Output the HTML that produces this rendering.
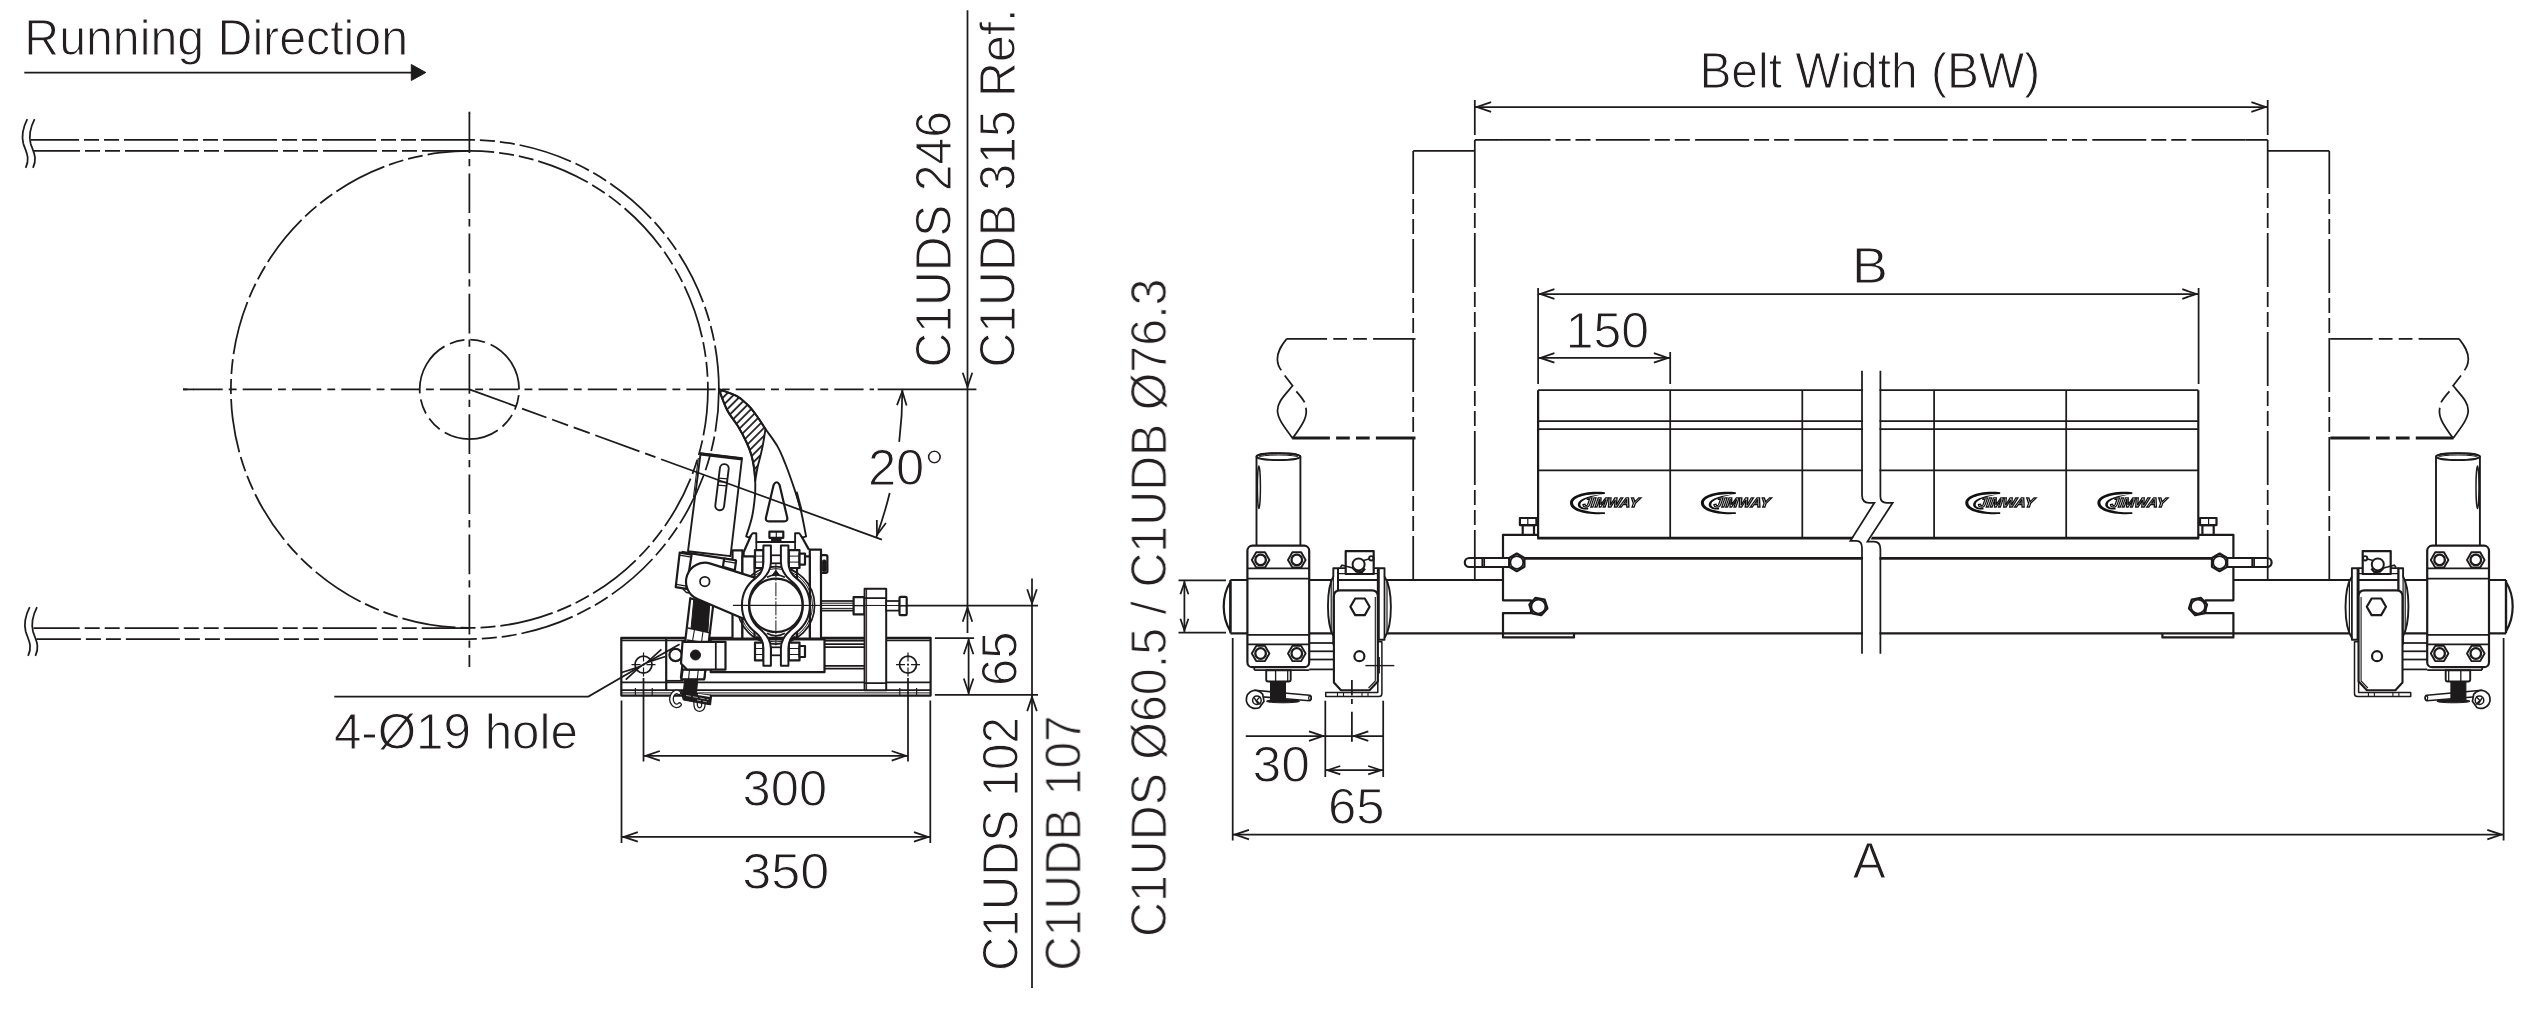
<!DOCTYPE html>
<html><head><meta charset="utf-8"><title>Belt cleaner drawing</title>
<style>
html,body{margin:0;padding:0;background:#fff;}
svg{display:block;font-family:"Liberation Sans",sans-serif;}
.l{fill:none;stroke:#1c1a1a;stroke-width:1.75;stroke-linecap:butt;stroke-linejoin:miter;stroke-miterlimit:10;}
.lw{fill:#fff;stroke:#1c1a1a;stroke-width:1.75;stroke-linejoin:miter;}
.m{fill:none;stroke:#1c1a1a;stroke-width:2.2;stroke-linejoin:round;}
.mw{fill:#fff;stroke:#1c1a1a;stroke-width:2.2;stroke-linejoin:round;}
.k{fill:#1c1a1a;stroke:#1c1a1a;stroke-width:1;}
.th{fill:none;stroke:#1c1a1a;stroke-width:2.6;}
.ph{fill:none;stroke:#1c1a1a;stroke-width:1.75;stroke-dasharray:54 5 15 5 15 5;}
.cl{fill:none;stroke:#1c1a1a;stroke-width:1.75;stroke-dasharray:29 6 8 6;}
.tx{fill:#231f20;stroke:#fff;stroke-width:1.0;paint-order:fill stroke;}
</style></head><body>
<svg width="2542" height="1021" viewBox="0 0 2542 1021">
<defs>
<pattern id="hat" width="5.6" height="5.6" patternUnits="userSpaceOnUse" patternTransform="rotate(-45)">
<line x1="-1" y1="2.8" x2="7" y2="2.8" stroke="#1c1a1a" stroke-width="1.75"/>
</pattern>
</defs>
<rect x="0" y="0" width="2542" height="1021" fill="#fff"/>

<g id="side">
<rect class="mw" x="621.3" y="637.8" width="309.3" height="57.8" rx="0" />
<line class="l" x1="621.3" y1="640.3" x2="930.6" y2="640.3" />
<line class="l" x1="621.3" y1="690.2" x2="930.6" y2="690.2" />
<line class="l" x1="621.3" y1="692.9" x2="930.6" y2="692.9" style="stroke-width:1"/>
<line class="l" x1="621.3" y1="682.4" x2="930.6" y2="682.4" />
<line class="l" x1="666.2" y1="680.8" x2="683.4" y2="680.8" />
<line class="m" x1="666.2" y1="637.8" x2="666.2" y2="690.2" />
<line class="l" x1="635.4" y1="688" x2="635.4" y2="695.6" style="stroke-width:1.2"/>
<line class="l" x1="652.2" y1="688" x2="652.2" y2="695.6" style="stroke-width:1.2"/>
<line class="l" x1="899.8" y1="688" x2="899.8" y2="695.6" style="stroke-width:1.2"/>
<line class="l" x1="916.6" y1="688" x2="916.6" y2="695.6" style="stroke-width:1.2"/>
<circle class="l" cx="643.5" cy="664.6" r="8.5" />
<line class="l" x1="631.5" y1="664.6" x2="655.5" y2="664.6" stroke-dasharray="9 2 2 2" style="stroke-width:1.2"/>
<line class="l" x1="643.5" y1="652.5" x2="643.5" y2="677" stroke-dasharray="9 2 2 2" style="stroke-width:1.2"/>
<circle class="l" cx="908" cy="664.6" r="8.5" />
<line class="l" x1="896" y1="664.6" x2="920" y2="664.6" stroke-dasharray="9 2 2 2" style="stroke-width:1.2"/>
<line class="l" x1="908" y1="652.5" x2="908" y2="677" stroke-dasharray="9 2 2 2" style="stroke-width:1.2"/>
<line class="l" x1="824.5" y1="640.7" x2="864.4" y2="640.7" />
<line class="l" x1="824.5" y1="644.2" x2="864.4" y2="644.2" />
<line class="l" x1="824.5" y1="647.2" x2="864.4" y2="647.2" />
<line class="l" x1="824.5" y1="665.8" x2="864.4" y2="665.8" />
<line class="l" x1="824.5" y1="668.7" x2="864.4" y2="668.7" />
<rect class="mw" x="710.7" y="639.3" width="113.8" height="32.9" rx="0" />
<rect class="lw" x="820.5" y="601" width="43.9" height="9.6" rx="0" />
<line class="l" x1="820.5" y1="603.2" x2="853.5" y2="603.2" style="stroke-width:1"/>
<line class="l" x1="820.5" y1="608.4" x2="853.5" y2="608.4" style="stroke-width:1"/>
<rect class="mw" x="853.6" y="597.2" width="10.8" height="17.2" rx="0" />
<line class="l" x1="853.6" y1="605.8" x2="864.4" y2="605.8" style="stroke-width:1.1"/>
<rect class="mw" x="864.6" y="588.8" width="21.6" height="101.4" rx="0" style="stroke-width:2"/>
<line class="l" x1="866.6" y1="588.8" x2="866.6" y2="690.2" style="stroke-width:1"/>
<line class="l" x1="864.6" y1="598.1" x2="886.2" y2="598.1" />
<line class="l" x1="864.6" y1="683.1" x2="886.2" y2="683.1" />
<rect class="lw" x="886.2" y="601" width="13.4" height="9.6" rx="0" />
<rect class="mw" x="899.5" y="596.8" width="7.2" height="18.4" rx="1.2" />
<line class="l" x1="899.5" y1="606" x2="906.7" y2="606" style="stroke-width:1.1"/>
<rect class="mw" x="732.5" y="550.3" width="9.9" height="88.2" rx="0" />
<rect class="mw" x="742.4" y="556.3" width="12.1" height="82.2" rx="0" />
<rect class="mw" x="809.8" y="549.6" width="11.2" height="88.9" rx="0" />
<rect class="mw" x="797" y="556.3" width="12.8" height="82.2" rx="0" />
<rect class="mw" x="821" y="555.2" width="6.4" height="17.6" rx="1.5" />
<rect class="k" x="822.3" y="560" width="3.9" height="11.5" rx="1.5" />
<path class="m" d="M750.9 535.8 L743.6 552.2 L743.6 556.3" />
<path class="m" d="M801.2 535.8 L808.9 549.6" />
<line class="m" x1="756.3" y1="541.9" x2="795.1" y2="541.9" />
<line class="l" x1="756.3" y1="541.9" x2="756.3" y2="550" />
<line class="l" x1="795.1" y1="541.9" x2="795.1" y2="550" />
<circle class="l" cx="775.9" cy="605.3" r="38.7" />
<circle class="l" cx="775.9" cy="605.3" r="36.6" style="stroke-width:1"/>
<rect class="mw" x="755" y="550.2" width="8.4" height="17.8" rx="0" />
<line class="l" x1="755" y1="556.1" x2="763.4" y2="556.1" style="stroke-width:1"/>
<line class="l" x1="755" y1="562.1" x2="763.4" y2="562.1" style="stroke-width:1"/>
<rect class="mw" x="788.8" y="550.2" width="10.7" height="17.8" rx="0" />
<line class="l" x1="788.8" y1="556.1" x2="799.5" y2="556.1" style="stroke-width:1"/>
<line class="l" x1="788.8" y1="562.1" x2="799.5" y2="562.1" style="stroke-width:1"/>
<rect class="mw" x="799.5" y="553.6" width="5.5" height="11" rx="0" />
<rect class="lw" x="771" y="555.3" width="10" height="8" rx="0" />
<rect class="mw" x="755" y="642.6" width="8.4" height="17.8" rx="0" />
<line class="l" x1="755" y1="654.5" x2="763.4" y2="654.5" style="stroke-width:1"/>
<line class="l" x1="755" y1="648.5" x2="763.4" y2="648.5" style="stroke-width:1"/>
<rect class="mw" x="788.8" y="642.6" width="10.7" height="17.8" rx="0" />
<line class="l" x1="788.8" y1="654.5" x2="799.5" y2="654.5" style="stroke-width:1"/>
<line class="l" x1="788.8" y1="648.5" x2="799.5" y2="648.5" style="stroke-width:1"/>
<rect class="mw" x="799.5" y="646" width="5.5" height="11" rx="0" />
<rect class="lw" x="771" y="647.3" width="10" height="8" rx="0" />
<path class="mw" d="M700.6 453.3 L742 458.1 L730.5 556.1 L688 551.2 Z" style="stroke-width:1.9"/>
<line class="th" x1="700.2" y1="454.1" x2="742.2" y2="459" style="stroke-width:3"/>
<line class="l" x1="698.3" y1="458" x2="693.5" y2="497" style="stroke-width:1.1"/>
<path class="mw" style="stroke-width:1.9" d="M719.9 468.2 a4.4 4.4 0 0 1 8.8 0.7 L724.1 506.2 a4.4 4.4 0 0 1 -8.8 -0.7 Z"/>
<line class="l" x1="718.7" y1="478.1" x2="727.5" y2="478.9" style="stroke-width:1.2"/>
<line class="l" x1="718.3" y1="481.6" x2="727.1" y2="482.4" style="stroke-width:1.2"/>
<line class="l" x1="717.9" y1="485.1" x2="726.7" y2="485.9" style="stroke-width:1.2"/>
<path class="mw" d="M679.7 552.6 L691.6 554.6 L686.3 588.9 L675.7 587.2 Z" />
<path class="l" d="M679.4 555.2 L691.2 557.2" style="stroke-width:1.3"/>
<path class="l" d="M676.2 584.4 L686.8 586.2" style="stroke-width:1.3"/>
<path class="m" d="M681.5 551.9 L736.1 560.3" />
<path class="mw" d="M724.2 558.5 L736.1 560.5 L734.8 570.4 L722.9 566.9 Z" />
<path class="l" d="M724 561.2 L735.8 563.2" style="stroke-width:1.3"/>
<path class="l" d="M683 589 L686.5 592.5 L690 593" style="stroke-width:1.4"/>
<path class="mw" d="M690.3 598.2 L713.2 605.2 L704.4 677.6 L680.9 677.6 Z" />
<path class="k" d="M693.8 599.1 L709.7 604.4 L707.9 631.7 L691.1 628.2 Z" />
<path class="l" d="M688 628 L711 633" />
<path class="l" d="M686.8 640 L709.5 643.5" />
<path class="l" d="M694.5 629.5 L692.5 641" style="stroke-width:1.1"/>
<path class="l" d="M703 631.3 L701.5 642.5" style="stroke-width:1.1"/>
<path class="mw" d="M682.6 669.6 L705.4 669.6 L704.2 679.3 L681.3 679.3 Z" />
<path class="l" d="M689.5 669.6 L688.5 679.3" style="stroke-width:1.1"/>
<path class="l" d="M698.3 669.6 L697.3 679.3" style="stroke-width:1.1"/>
<path class="k" d="M684.6 679.3 L697.8 679.3 L696.4 694 L683.3 693 Z" />
<path class="l" style="stroke-width:4.8;stroke-linecap:round" d="M679 692.8 A5 7 0 1 0 679.6 704.6"/>
<path class="l" style="stroke:#fff;stroke-width:2.2;stroke-linecap:round" d="M679 692.8 A5 7 0 1 0 679.6 704.6"/>
<path class="l" style="stroke-width:4.6;stroke-linecap:round" d="M695.4 701 L695.8 706.3 A3.8 4.3 0 0 0 703.2 706.3 L703.4 703"/>
<path class="l" style="stroke:#fff;stroke-width:2.1;stroke-linecap:round" d="M695.4 701 L695.8 706.3 A3.8 4.3 0 0 0 703.2 706.3 L703.4 703"/>
<path class="k" d="M681 691.4 L711.6 695.4 L710.6 704.9 L683.3 700 Z" />
<path d="M698 694.4 L709.8 696.2" style="fill:none;stroke:#fff;stroke-width:1.4"/>
<path d="M686 695.4 L708.5 699.6" style="fill:none;stroke:#ddd;stroke-width:0.7;stroke-dasharray:5 2"/>
<path d="M697 700 L709 702.3" style="fill:none;stroke:#ddd;stroke-width:0.7;stroke-dasharray:4 2"/>
<circle class="mw" cx="675.6" cy="655" r="6.2" />
<path class="mw" d="M682.5 641.9 L725.5 641.9 L725.5 669.6 L687 669.6 L681 663.5 Z" />
<line class="l" x1="715.8" y1="641.9" x2="715.8" y2="669.6" />
<circle class="k" cx="695.5" cy="655" r="5" />
<path class="mw" d="M710.5 563.6 L755.5 577.9 L743.6 618.8 L697.4 599 A18.9 18.9 0 0 1 710.5 563.6 Z"/>
<circle class="lw" cx="704.8" cy="581.6" r="4.8" />
<path class="mw" style="stroke-width:2" d="M770.9 545.4 L763.4 545.4 L763.4 562.3 Q763.4 572.3 755.6 578.1 A33.9 33.9 0 0 0 755.6 632.5 Q763.4 638.3 763.4 648.3 L763.4 665.8 L770.9 665.8 L770.9 648.3 Q770.9 638.3 761.1 630 A27 29.6 0 0 1 761.1 580.6 Q770.9 572.3 770.9 562.3 Z"/>
<path class="mw" style="stroke-width:2" d="M780.9 545.4 L788.4 545.4 L788.4 562.3 Q788.4 572.3 796.2 578.1 A33.9 33.9 0 0 1 796.2 632.5 Q788.4 638.3 788.4 648.3 L788.4 665.8 L780.9 665.8 L780.9 648.3 Q780.9 638.3 790.7 630 A27 29.6 0 0 0 790.7 580.6 Q780.9 572.3 780.9 562.3 Z"/>
<circle class="mw" cx="775.9" cy="605.3" r="26.7" />
<path class="k" d="M772.5 574.8 L775.9 570.3 L779.3 574.8 Z" />
<path class="l" d="M766.9 577.3 Q775.9 572.3 784.9 577.3"/>
<path class="l" d="M766.9 633.3 Q775.9 638.3 784.9 633.3"/>
<line class="l" x1="732.9" y1="605.3" x2="906.7" y2="605.5" style="stroke-width:1.2"/>
<line class="l" x1="775.9" y1="563.3" x2="775.9" y2="645.3" stroke-dasharray="14 1.5 2 1.5" style="stroke-width:1"/>
<path class="mw" style="stroke-width:1.9" d="M718.8 389.2 C720.2 392.7 724 404 727.2 410.2 C730.4 416.4 734.8 420.9 738 426.3 C741.2 431.7 744.4 437.6 746.6 442.5 C748.9 447.4 750.2 450.9 751.5 455.4 C752.8 459.9 753.6 465.1 754.2 469.4 C754.8 473.7 755.1 476.7 755.2 481 C755.3 485.3 755.5 489.4 755 495.4 C754.5 501.4 753.5 510.2 752 517 C750.5 523.8 747.2 533.1 746.2 536.3 L749.1 537.6 L752.6 533.3 L756.3 533.3 L756.3 541.9 L795.1 541.9 L795.1 533.3 L799.3 533.3 L802.3 537.6 L806.1 536.3 C805.2 532.1 802.8 518.5 801 511 C799.2 503.5 797.8 499.2 795.2 491.4 C792.6 483.6 788.4 471.5 785.4 464 C782.4 456.5 780.8 452.2 777.5 446.4 C774.2 440.6 769 434.1 765.5 429 C762 423.9 759.5 419.5 756.5 415.5 C753.5 411.5 751 408 747.7 404.8 C744.4 401.6 741.7 398.8 736.9 396.2 C732.1 393.6 721.8 390.4 718.8 389.2 Z"/>
<path d="M718.8 389.2 C721.8 390.4 732.1 393.6 736.9 396.2 C741.7 398.8 744.4 401.6 747.7 404.8 C751 408 753.5 411.5 756.5 415.5 C759.5 419.5 764 426.8 765.5 429 C765.1 431.2 764.2 437.6 763.4 442 C762.6 446.4 761.6 451.2 760.6 455.4 C759.6 459.6 758.5 462.7 757.6 467 C756.7 471.3 755.6 478.7 755.2 481 C755 479.1 754.8 473.7 754.2 469.4 C753.6 465.1 752.8 459.9 751.5 455.4 C750.2 450.9 748.9 447.4 746.6 442.5 C744.4 437.6 741.2 431.7 738 426.3 C734.8 420.9 730.4 416.4 727.2 410.2 C724 404 720.2 392.7 718.8 389.2 Z" fill="url(#hat)" stroke="#1c1a1a" stroke-width="1.9" stroke-linejoin="round"/>
<path class="mw" d="M773.6 485 Q776.6 479.5 779.6 485 L787.2 517.5 Q788 521.3 784.2 521.3 L769 521.3 Q765.2 521.3 766 517.5 Z"/>
<path class="l" d="M796.3 491.8 L801.2 510" style="stroke-width:2.6"/>
<rect class="mw" x="769.4" y="531.7" width="13.9" height="6.1" rx="0" />
<line class="l" x1="776.3" y1="531.7" x2="776.3" y2="537.8" style="stroke-width:1.1"/>
<rect class="k" x="771.6" y="537.8" width="9.4" height="3.7" rx="0" />
<circle class="ph" cx="469.4" cy="389.4" r="238.5" transform="rotate(-97 469.4 389.4)"/>
<circle class="l" cx="0" cy="0" r="49.7" stroke-dasharray="56 6 15 6 15 6" transform="translate(469.4 389.4) scale(1 -1)"/>
<path class="ph" stroke-dashoffset="6" d="M31 139.9 L469.4 139.9 A249.5 249.5 0 0 1 718.9 389.4"/>
<path class="ph" stroke-dashoffset="8" d="M34 150.9 L469.4 150.9"/>
<path class="ph" stroke-dashoffset="9.4" d="M36.3 639 L469.4 639 A249.5 249.5 0 0 0 718.9 389.4"/>
<path class="ph" stroke-dashoffset="7.8" d="M33.5 628 L469.4 628"/>
<path class="l" d="M27.3 119.1 C22.3 128.9 21.3 135.4 23.3 143.4 C25.6 151.4 30.6 157.4 25.7 167.8"/>
<path class="l" d="M34.6 119.1 C29.6 128.9 28.6 135.4 30.6 143.4 C32.9 151.4 37.9 157.4 33 167.8"/>
<path class="l" d="M29.7 607.2 C24.7 617 23.7 623.5 25.7 631.5 C28 639.5 33 645.5 28.1 655.8"/>
<path class="l" d="M37 607.2 C32 617 31 623.5 33 631.5 C35.3 639.5 40.3 645.5 35.4 655.8"/>
<line class="l" x1="183" y1="389.4" x2="194" y2="389.4" />
<line class="l" x1="183" y1="389.4" x2="874" y2="389.4" stroke-dasharray="29.3 6 7.9 6.1" stroke-dashoffset="38.9"/>
<line class="l" x1="877.7" y1="389.4" x2="976.4" y2="389.4" />
<line class="l" x1="469.4" y1="111.7" x2="469.4" y2="114" />
<line class="l" x1="469.4" y1="113.2" x2="469.4" y2="667" stroke-dasharray="39.7 6 7.3 7.2"/>
<line class="l" x1="469.4" y1="389.4" x2="881.9" y2="539.6" stroke-dasharray="50 6 26 6 17 6 17 6 47 6 11 6 1000"/>
</g>
<g id="front">
<line class="m" x1="1230.4" y1="580" x2="1503" y2="580" />
<line class="m" x1="1230.4" y1="633.3" x2="1868.2" y2="633.3" />
<path class="mw" d="M1230.4 582 C1221.5 596 1221.5 617 1230.4 631.3 Z"/>
<line class="m" x1="1230.4" y1="580" x2="1230.4" y2="633.3" />
<path class="mw" style="stroke-width:1.9" d="M1256.5 546 L1256.5 456.5 A21.95 3.4 0 0 1 1300.4 456.5 L1300.4 546 Z"/>
<ellipse class="l" cx="1278.45" cy="456.7" rx="21.95" ry="3.4"/>
<ellipse class="l" cx="1278.45" cy="457.4" rx="20" ry="2.4" style="stroke-width:1"/>
<ellipse class="l" cx="1258.9" cy="487.3" rx="1.5" ry="21.3" style="stroke-width:1.5"/>
<rect class="mw" x="1247.4" y="545.7" width="61.8" height="121.5" rx="5" />
<line class="l" x1="1247.4" y1="568.4" x2="1309.2" y2="568.4" />
<line class="l" x1="1247.4" y1="578.6" x2="1309.2" y2="578.6" />
<line class="l" x1="1247.4" y1="634.8" x2="1309.2" y2="634.8" />
<line class="l" x1="1247.4" y1="644.4" x2="1309.2" y2="644.4" />
<path class="mw" d="M1269.4 559.9 L1265 567.5 L1256.2 567.5 L1251.8 559.9 L1256.2 552.3 L1265 552.3 Z" style="stroke-width:1.9"/>
<circle class="l" cx="1260.6" cy="559.9" r="5.3" style="stroke-width:2.3"/>
<path class="mw" d="M1269.4 653.5 L1265 661.1 L1256.2 661.1 L1251.8 653.5 L1256.2 645.9 L1265 645.9 Z" style="stroke-width:1.9"/>
<circle class="l" cx="1260.6" cy="653.5" r="5.3" style="stroke-width:2.3"/>
<path class="mw" d="M1305.6 559.9 L1301.2 567.5 L1292.4 567.5 L1288 559.9 L1292.4 552.3 L1301.2 552.3 Z" style="stroke-width:1.9"/>
<circle class="l" cx="1296.8" cy="559.9" r="5.3" style="stroke-width:2.3"/>
<path class="mw" d="M1305.6 653.5 L1301.2 661.1 L1292.4 661.1 L1288 653.5 L1292.4 645.9 L1301.2 645.9 Z" style="stroke-width:1.9"/>
<circle class="l" cx="1296.8" cy="653.5" r="5.3" style="stroke-width:2.3"/>
<line class="l" x1="1254.3" y1="670" x2="1309.2" y2="670" />
<line class="l" x1="1254.3" y1="667.2" x2="1254.3" y2="670" />
<path class="mw" style="stroke-width:1.9" d="M1266.2 670.2 L1290.7 670.2 L1290.7 679.5 Q1290.7 681.5 1288.7 681.5 L1268.2 681.5 Q1266.2 681.5 1266.2 679.5 Z"/>
<line class="l" x1="1275.6" y1="670.2" x2="1275.6" y2="681.5" style="stroke-width:1.3"/>
<line class="l" x1="1287.7" y1="670.2" x2="1287.7" y2="681.5" style="stroke-width:1.3"/>
<ellipse class="k" cx="1283" cy="701.2" rx="16.5" ry="1.6"/>
<path class="mw" style="stroke-width:1.6" d="M1254.5 690.3 L1309.6 695.2 A1.7 2.8 0 0 1 1309.4 700.8 L1254.5 696.2 Z"/>
<ellipse class="l" cx="1310" cy="698" rx="1.3" ry="2.2" style="stroke-width:1.2"/>
<rect class="k" x="1270.5" y="681.5" width="15" height="18.3" rx="0" />
<path class="mw" style="stroke-width:1.7" d="M1259.5 707.4 A9 9 0 1 1 1262.7 694.3 L1264 701.3 Z"/>
<circle class="l" cx="1256.9" cy="700.3" r="4.3" style="stroke-width:1.5"/>
<path class="l" style="stroke-width:1.4" d="M1254 697.3 L1258 703.8 M1260.2 696.6 L1256.5 700.6 L1260.5 704.4"/>
<line class="l" x1="1309.2" y1="643" x2="1334" y2="643" />
<line class="l" x1="1309.2" y1="651.3" x2="1334" y2="651.3" />
<line class="l" x1="1309.2" y1="659.5" x2="1334" y2="659.5" />
<line class="l" x1="1309.2" y1="669.4" x2="1334" y2="669.4" />
<path class="mw" style="stroke-width:1.9" d="M1338 568.2 L1333.3 568.2 L1333.3 576.5 C1326.2 589 1326.2 623 1333.3 636.1 L1333.3 644 L1338 644 Z"/>
<path class="l" style="stroke-width:1.2" d="M1333.3 576.5 L1333.3 636.1 M1331.2 581 L1331.2 632"/>
<line class="l" x1="1338" y1="568.2" x2="1338" y2="591" />
<path class="mw" style="stroke-width:1.9" d="M1377.8 568.2 L1384.5 568.2 L1384.5 576.5 C1393 589 1393 625 1384.5 638 L1384.5 639.8 L1377.8 639.8 Z"/>
<line class="l" x1="1378.9" y1="568.2" x2="1378.9" y2="639.8" />
<line class="l" x1="1384.5" y1="576.5" x2="1384.5" y2="638" />
<path class="l" style="stroke-width:1.2" d="M1387 582 L1387 632"/>
<line class="l" x1="1338" y1="568.2" x2="1377.8" y2="568.2" />
<line class="l" x1="1338" y1="573.6" x2="1377.8" y2="573.6" style="stroke-width:1.2"/>
<rect class="mw" x="1345.7" y="551.1" width="28" height="22.9" rx="0" />
<path class="l" style="stroke-width:1.5" d="M1340.3 567.5 L1342 565.2 L1353 568"/>
<path class="l" style="stroke-width:2.4" d="M1352.6 567.6 L1356.5 571.6 L1362 572 L1365 568.5"/>
<circle class="mw" cx="1358.6" cy="564.4" r="6" style="stroke-width:2"/>
<path class="l" style="stroke-width:1.6" d="M1363.5 560.5 L1369.6 558.8"/>
<circle class="l" cx="1371.3" cy="558.3" r="2.2" style="stroke-width:1.9"/>
<path class="mw" style="stroke-width:1.5" d="M1377.8 641.7 L1381.9 641.7 L1381.9 693.5 Q1381.9 696.6 1378.8 696.6 L1325.7 696.6 L1325.7 692.5 L1377.8 692.5 Z"/>
<line class="l" x1="1337.5" y1="692.5" x2="1337.5" y2="696.6" style="stroke-width:1.1"/>
<line class="l" x1="1343.5" y1="692.5" x2="1343.5" y2="696.6" style="stroke-width:1.1"/>
<line class="l" x1="1362" y1="692.5" x2="1362" y2="696.6" style="stroke-width:1.1"/>
<line class="l" x1="1368" y1="692.5" x2="1368" y2="696.6" style="stroke-width:1.1"/>
<path class="mw" style="stroke-width:2.1" d="M1340 590.4 L1371.8 590.4 Q1377.8 590.4 1377.8 596.4 L1377.8 681.5 L1369.5 690.3 L1341 690.3 L1333.9 682.5 L1333.9 596.4 Q1333.9 590.4 1340 590.4 Z"/>
<path class="l" style="stroke-width:1.1" d="M1375.3 597 L1375.3 681 L1368.5 688"/>
<path class="mw" d="M1369.6 606.8 L1364.8 615.1 L1355.2 615.1 L1350.4 606.8 L1355.2 598.5 L1364.8 598.5 Z" />
<circle class="mw" cx="1359.4" cy="656.2" r="5" />
<path class="mw" d="M1538.1 534.8 L1503 534.8 L1503 600.3 L1531 600.3 L1531 613.1 L1503 613.1 L1503 637.4 L1574 637.4 L1574 633.3"/>
<line class="m" x1="1503" y1="633.3" x2="1574" y2="633.3" />
<rect class="mw" x="1522.7" y="525.1" width="11.3" height="9.7" rx="0" />
<rect class="mw" x="1519.9" y="518" width="16.5" height="7.1" rx="0" />
<line class="l" x1="1527.8" y1="518" x2="1527.8" y2="525.1" style="stroke-width:1.2"/>
<line class="th" x1="1520" y1="558.4" x2="1868.2" y2="558.4" />
<path class="mw" d="M1510 558 L1469.3 558 A4.5 4.5 0 0 0 1469.3 567 L1510 567 Z"/>
<line class="l" x1="1482.3" y1="558" x2="1482.3" y2="567" />
<line class="l" x1="1484.2" y1="558" x2="1484.2" y2="567" />
<path class="mw" d="M1524.4 566.8 L1516.8 571.2 L1509.2 566.8 L1509.2 558 L1516.8 553.6 L1524.4 558 Z" style="stroke-width:2.3"/>
<circle class="l" cx="1516.8" cy="562.4" r="6.4" />
<path class="mw" d="M1547.4 608.4 L1541.2 615.2 L1532.2 613.3 L1529.4 604.6 L1535.6 597.8 L1544.6 599.7 Z" style="stroke-width:2.3"/>
<circle class="l" cx="1538.4" cy="606.5" r="7" />
<line class="l" x1="1538.1" y1="390.2" x2="1868.2" y2="390.2" />
<line class="m" x1="1538.1" y1="390.2" x2="1538.1" y2="538.1" />
<line class="l" x1="1538.1" y1="421.2" x2="1868.2" y2="421.2" />
<line class="l" x1="1538.1" y1="429.1" x2="1868.2" y2="429.1" />
<line class="l" x1="1538.1" y1="470.3" x2="1868.2" y2="470.3" />
<line class="th" x1="1537.2" y1="538.1" x2="1868.2" y2="538.1" />
<line class="l" x1="1670.2" y1="390.2" x2="1670.2" y2="538.1" />
<line class="l" x1="1802.3" y1="390.2" x2="1802.3" y2="538.1" />
<g transform="translate(3736.4 0) scale(-1 1)">
<line class="m" x1="1230.4" y1="580" x2="1503" y2="580" />
<line class="m" x1="1230.4" y1="633.3" x2="1868.2" y2="633.3" />
<path class="mw" d="M1230.4 582 C1221.5 596 1221.5 617 1230.4 631.3 Z"/>
<line class="m" x1="1230.4" y1="580" x2="1230.4" y2="633.3" />
<path class="mw" style="stroke-width:1.9" d="M1256.5 546 L1256.5 456.5 A21.95 3.4 0 0 1 1300.4 456.5 L1300.4 546 Z"/>
<ellipse class="l" cx="1278.45" cy="456.7" rx="21.95" ry="3.4"/>
<ellipse class="l" cx="1278.45" cy="457.4" rx="20" ry="2.4" style="stroke-width:1"/>
<ellipse class="l" cx="1258.9" cy="487.3" rx="1.5" ry="21.3" style="stroke-width:1.5"/>
<rect class="mw" x="1247.4" y="545.7" width="61.8" height="121.5" rx="5" />
<line class="l" x1="1247.4" y1="568.4" x2="1309.2" y2="568.4" />
<line class="l" x1="1247.4" y1="578.6" x2="1309.2" y2="578.6" />
<line class="l" x1="1247.4" y1="634.8" x2="1309.2" y2="634.8" />
<line class="l" x1="1247.4" y1="644.4" x2="1309.2" y2="644.4" />
<path class="mw" d="M1269.4 559.9 L1265 567.5 L1256.2 567.5 L1251.8 559.9 L1256.2 552.3 L1265 552.3 Z" style="stroke-width:1.9"/>
<circle class="l" cx="1260.6" cy="559.9" r="5.3" style="stroke-width:2.3"/>
<path class="mw" d="M1269.4 653.5 L1265 661.1 L1256.2 661.1 L1251.8 653.5 L1256.2 645.9 L1265 645.9 Z" style="stroke-width:1.9"/>
<circle class="l" cx="1260.6" cy="653.5" r="5.3" style="stroke-width:2.3"/>
<path class="mw" d="M1305.6 559.9 L1301.2 567.5 L1292.4 567.5 L1288 559.9 L1292.4 552.3 L1301.2 552.3 Z" style="stroke-width:1.9"/>
<circle class="l" cx="1296.8" cy="559.9" r="5.3" style="stroke-width:2.3"/>
<path class="mw" d="M1305.6 653.5 L1301.2 661.1 L1292.4 661.1 L1288 653.5 L1292.4 645.9 L1301.2 645.9 Z" style="stroke-width:1.9"/>
<circle class="l" cx="1296.8" cy="653.5" r="5.3" style="stroke-width:2.3"/>
<line class="l" x1="1254.3" y1="670" x2="1309.2" y2="670" />
<line class="l" x1="1254.3" y1="667.2" x2="1254.3" y2="670" />
<path class="mw" style="stroke-width:1.9" d="M1266.2 670.2 L1290.7 670.2 L1290.7 679.5 Q1290.7 681.5 1288.7 681.5 L1268.2 681.5 Q1266.2 681.5 1266.2 679.5 Z"/>
<line class="l" x1="1275.6" y1="670.2" x2="1275.6" y2="681.5" style="stroke-width:1.3"/>
<line class="l" x1="1287.7" y1="670.2" x2="1287.7" y2="681.5" style="stroke-width:1.3"/>
<ellipse class="k" cx="1283" cy="701.2" rx="16.5" ry="1.6"/>
<path class="mw" style="stroke-width:1.6" d="M1254.5 690.3 L1309.6 695.2 A1.7 2.8 0 0 1 1309.4 700.8 L1254.5 696.2 Z"/>
<ellipse class="l" cx="1310" cy="698" rx="1.3" ry="2.2" style="stroke-width:1.2"/>
<rect class="k" x="1270.5" y="681.5" width="15" height="18.3" rx="0" />
<path class="mw" style="stroke-width:1.7" d="M1259.5 707.4 A9 9 0 1 1 1262.7 694.3 L1264 701.3 Z"/>
<circle class="l" cx="1256.9" cy="700.3" r="4.3" style="stroke-width:1.5"/>
<path class="l" style="stroke-width:1.4" d="M1254 697.3 L1258 703.8 M1260.2 696.6 L1256.5 700.6 L1260.5 704.4"/>
<line class="l" x1="1309.2" y1="643" x2="1334" y2="643" />
<line class="l" x1="1309.2" y1="651.3" x2="1334" y2="651.3" />
<line class="l" x1="1309.2" y1="659.5" x2="1334" y2="659.5" />
<line class="l" x1="1309.2" y1="669.4" x2="1334" y2="669.4" />
<path class="mw" style="stroke-width:1.9" d="M1338 568.2 L1333.3 568.2 L1333.3 576.5 C1326.2 589 1326.2 623 1333.3 636.1 L1333.3 644 L1338 644 Z"/>
<path class="l" style="stroke-width:1.2" d="M1333.3 576.5 L1333.3 636.1 M1331.2 581 L1331.2 632"/>
<line class="l" x1="1338" y1="568.2" x2="1338" y2="591" />
<path class="mw" style="stroke-width:1.9" d="M1377.8 568.2 L1384.5 568.2 L1384.5 576.5 C1393 589 1393 625 1384.5 638 L1384.5 639.8 L1377.8 639.8 Z"/>
<line class="l" x1="1378.9" y1="568.2" x2="1378.9" y2="639.8" />
<line class="l" x1="1384.5" y1="576.5" x2="1384.5" y2="638" />
<path class="l" style="stroke-width:1.2" d="M1387 582 L1387 632"/>
<line class="l" x1="1338" y1="568.2" x2="1377.8" y2="568.2" />
<line class="l" x1="1338" y1="573.6" x2="1377.8" y2="573.6" style="stroke-width:1.2"/>
<rect class="mw" x="1345.7" y="551.1" width="28" height="22.9" rx="0" />
<path class="l" style="stroke-width:1.5" d="M1340.3 567.5 L1342 565.2 L1353 568"/>
<path class="l" style="stroke-width:2.4" d="M1352.6 567.6 L1356.5 571.6 L1362 572 L1365 568.5"/>
<circle class="mw" cx="1358.6" cy="564.4" r="6" style="stroke-width:2"/>
<path class="l" style="stroke-width:1.6" d="M1363.5 560.5 L1369.6 558.8"/>
<circle class="l" cx="1371.3" cy="558.3" r="2.2" style="stroke-width:1.9"/>
<path class="mw" style="stroke-width:1.5" d="M1377.8 641.7 L1381.9 641.7 L1381.9 693.5 Q1381.9 696.6 1378.8 696.6 L1325.7 696.6 L1325.7 692.5 L1377.8 692.5 Z"/>
<line class="l" x1="1337.5" y1="692.5" x2="1337.5" y2="696.6" style="stroke-width:1.1"/>
<line class="l" x1="1343.5" y1="692.5" x2="1343.5" y2="696.6" style="stroke-width:1.1"/>
<line class="l" x1="1362" y1="692.5" x2="1362" y2="696.6" style="stroke-width:1.1"/>
<line class="l" x1="1368" y1="692.5" x2="1368" y2="696.6" style="stroke-width:1.1"/>
<path class="mw" style="stroke-width:2.1" d="M1340 590.4 L1371.8 590.4 Q1377.8 590.4 1377.8 596.4 L1377.8 681.5 L1369.5 690.3 L1341 690.3 L1333.9 682.5 L1333.9 596.4 Q1333.9 590.4 1340 590.4 Z"/>
<path class="l" style="stroke-width:1.1" d="M1375.3 597 L1375.3 681 L1368.5 688"/>
<path class="mw" d="M1369.6 606.8 L1364.8 615.1 L1355.2 615.1 L1350.4 606.8 L1355.2 598.5 L1364.8 598.5 Z" />
<circle class="mw" cx="1359.4" cy="656.2" r="5" />
<path class="mw" d="M1538.1 534.8 L1503 534.8 L1503 600.3 L1531 600.3 L1531 613.1 L1503 613.1 L1503 637.4 L1574 637.4 L1574 633.3"/>
<line class="m" x1="1503" y1="633.3" x2="1574" y2="633.3" />
<rect class="mw" x="1522.7" y="525.1" width="11.3" height="9.7" rx="0" />
<rect class="mw" x="1519.9" y="518" width="16.5" height="7.1" rx="0" />
<line class="l" x1="1527.8" y1="518" x2="1527.8" y2="525.1" style="stroke-width:1.2"/>
<line class="th" x1="1520" y1="558.4" x2="1868.2" y2="558.4" />
<path class="mw" d="M1510 558 L1469.3 558 A4.5 4.5 0 0 0 1469.3 567 L1510 567 Z"/>
<line class="l" x1="1482.3" y1="558" x2="1482.3" y2="567" />
<line class="l" x1="1484.2" y1="558" x2="1484.2" y2="567" />
<path class="mw" d="M1524.4 566.8 L1516.8 571.2 L1509.2 566.8 L1509.2 558 L1516.8 553.6 L1524.4 558 Z" style="stroke-width:2.3"/>
<circle class="l" cx="1516.8" cy="562.4" r="6.4" />
<path class="mw" d="M1547.4 608.4 L1541.2 615.2 L1532.2 613.3 L1529.4 604.6 L1535.6 597.8 L1544.6 599.7 Z" style="stroke-width:2.3"/>
<circle class="l" cx="1538.4" cy="606.5" r="7" />
<line class="l" x1="1538.1" y1="390.2" x2="1868.2" y2="390.2" />
<line class="m" x1="1538.1" y1="390.2" x2="1538.1" y2="538.1" />
<line class="l" x1="1538.1" y1="421.2" x2="1868.2" y2="421.2" />
<line class="l" x1="1538.1" y1="429.1" x2="1868.2" y2="429.1" />
<line class="l" x1="1538.1" y1="470.3" x2="1868.2" y2="470.3" />
<line class="th" x1="1537.2" y1="538.1" x2="1868.2" y2="538.1" />
<line class="l" x1="1670.2" y1="390.2" x2="1670.2" y2="538.1" />
<line class="l" x1="1802.3" y1="390.2" x2="1802.3" y2="538.1" />
</g>
<path class="ph" d="M1474.8 139.9 L1474.8 580" stroke-dashoffset="6"/>
<line class="l" x1="1413.2" y1="150.9" x2="1474.8" y2="150.9" />
<path class="ph" d="M1413.2 150.9 L1413.2 580" stroke-dashoffset="11"/>
<g transform="translate(3742.5 0) scale(-1 1)">
<path class="ph" d="M1474.8 139.9 L1474.8 580" stroke-dashoffset="6"/>
<line class="l" x1="1413.2" y1="150.9" x2="1474.8" y2="150.9" />
<path class="ph" d="M1413.2 150.9 L1413.2 580" stroke-dashoffset="11"/>
</g>
<path class="l" stroke-dasharray="40.4 6.2 13.7 6.2 13.7 6.2 50" d="M1286.7 338.8 L1415.5 338.8"/>
<path class="l" style="stroke-width:3" stroke-dasharray="37.7 6.2 13.7 6.2 13.7 6.2 50" d="M1292.2 437.9 L1415.5 437.9"/>
<path class="l" d="M1286.7 338.8 C1281 346 1277 352 1277.4 359.5 C1277.6 364 1279 367.5 1281.3 370.2"/>
<path class="l" d="M1284.7 375.5 L1292.6 385.8 C1284 396 1277.5 402 1277.5 410.5 C1277.5 418 1283 425.5 1292.6 438.2"/>
<path class="l" d="M1296.3 391.3 C1300 395.5 1302.6 398.6 1304.6 402.3"/>
<path class="l" d="M1305.9 407.7 C1307.6 416 1304 423 1292.6 438.2"/>
<g transform="translate(3745.7 0) scale(-1 1)">
<path class="l" stroke-dasharray="40.4 6.2 13.7 6.2 13.7 6.2 50" d="M1286.7 338.8 L1415.5 338.8"/>
<path class="l" style="stroke-width:3" stroke-dasharray="37.7 6.2 13.7 6.2 13.7 6.2 50" d="M1292.2 437.9 L1415.5 437.9"/>
<path class="l" d="M1286.7 338.8 C1281 346 1277 352 1277.4 359.5 C1277.6 364 1279 367.5 1281.3 370.2"/>
<path class="l" d="M1284.7 375.5 L1292.6 385.8 C1284 396 1277.5 402 1277.5 410.5 C1277.5 418 1283 425.5 1292.6 438.2"/>
<path class="l" d="M1296.3 391.3 C1300 395.5 1302.6 398.6 1304.6 402.3"/>
<path class="l" d="M1305.9 407.7 C1307.6 416 1304 423 1292.6 438.2"/>
</g>
<line class="l" x1="1474.8" y1="139.9" x2="1497" y2="139.9" />
<line class="l" x1="2245.5" y1="139.9" x2="2267.7" y2="139.9" />
<path class="ph" style="stroke-dasharray:54 5 15 5 15 5.3" d="M1496.5 139.9 L2246.5 139.9"/>
<line class="l" x1="1365.4" y1="665.6" x2="1394.3" y2="665.6" style="stroke-width:1.4"/>
<line class="l" x1="1379.2" y1="657" x2="1379.2" y2="673.5" style="stroke-width:1.4"/>
<line class="l" x1="1351.9" y1="680" x2="1351.9" y2="741.8" stroke-dasharray="15.5 3.5 5 7.7 40"/>
<rect x="1863" y="386" width="16.5" height="110" fill="#fff"/>
<rect x="1863" y="546" width="16.5" height="92" fill="#fff"/>
<path d="M1863 490 L1879.6 490 L1886 503 L1869 544 L1863 548 L1852 540 L1872 503 Z" fill="#fff"/>
<path class="l" d="M1862 370.7 L1862 495 Q1862 502.8 1869 502.8 L1874.4 502.8 L1850.4 540.9 L1856.5 540.9 Q1862 540.9 1862 548 L1862 653.7"/>
<path class="l" d="M1880.4 370.7 L1880.4 496.5 Q1880.4 502.8 1886.7 502.8 L1892.7 502.8 L1867.4 541.6 L1874 541.6 Q1880.4 541.6 1880.4 549 L1880.4 653.7"/>
</g>
<g opacity="0.999">
<text class="tx" x="24.3" y="54.6" font-size="49.5" text-anchor="start" textLength="383.7" lengthAdjust="spacingAndGlyphs" >Running Direction</text>
<line class="l" x1="24.3" y1="72.5" x2="412" y2="72.5" />
<path class="k" d="M411.3 64.5 L425.8 72.5 L411.3 80.5 Z" />
<line class="l" x1="967.5" y1="10.3" x2="967.5" y2="633" />
<path class="l" d="M962.7 372.7 L967.5 386.8 L972.3 372.7" />
<path class="l" d="M972.3 621.8 L967.5 607.7 L962.7 621.8" />
<line class="l" x1="968.6" y1="638" x2="968.6" y2="694.8" />
<path class="l" d="M973.4 654.3 L968.6 640.2 L963.8 654.3" />
<path class="l" d="M963.8 678.5 L968.6 692.6 L973.4 678.5" />
<line class="l" x1="934.9" y1="638" x2="974.1" y2="638" />
<line class="l" x1="934.9" y1="694.8" x2="1038" y2="694.8" />
<line class="l" x1="906.7" y1="605.5" x2="1038" y2="605.5" />
<line class="l" x1="1032" y1="578.5" x2="1032" y2="988" />
<path class="l" d="M1027.2 589.2 L1032 603.3 L1036.8 589.2" />
<path class="l" d="M1036.8 711.1 L1032 697 L1027.2 711.1" />
<line class="l" x1="643.5" y1="755.8" x2="908" y2="755.8" />
<path class="l" d="M659.8 751 L645.7 755.8 L659.8 760.6" />
<path class="l" d="M891.7 760.6 L905.8 755.8 L891.7 751" />
<line class="l" x1="621.5" y1="836.9" x2="930.3" y2="836.9" />
<path class="l" d="M637.8 832.1 L623.7 836.9 L637.8 841.7" />
<path class="l" d="M914 841.7 L928.1 836.9 L914 832.1" />
<line class="l" x1="621.5" y1="700.5" x2="621.5" y2="843" />
<line class="l" x1="930.3" y1="700.5" x2="930.3" y2="843" />
<line class="l" x1="643.5" y1="678" x2="643.5" y2="761.5" />
<line class="l" x1="908" y1="678" x2="908" y2="761.5" />
<path class="l" d="M334.3 696.6 L588.4 696.6 L643.6 664.5 L679.6 644.3" />
<path class="l" d="M625.8 679.6 L640.1 666.6 L621.7 672.5" />
<path class="l" d="M661.4 649.4 L647.1 662.4 L665.5 656.5" />
<path class="l" d="M902.4 389 A433 433 0 0 1 899.2 441.8"/>
<path class="l" d="M889.7 493 A433 433 0 0 1 876.3 537.1"/>
<path class="l" d="M906.6 405.5 L902.3 391.2 L897 405.1" />
<path class="l" d="M876.8 520.1 L877 535 L885.9 523.1" />
<text class="tx" x="867.9" y="484.9" font-size="49.5" text-anchor="start" textLength="76.7" lengthAdjust="spacingAndGlyphs" >20°</text>
<text class="tx" x="333.9" y="749.3" font-size="49.5" text-anchor="start" textLength="244" lengthAdjust="spacingAndGlyphs" >4-Ø19 hole</text>
<text class="tx" x="784.8" y="806.4" font-size="49.5" text-anchor="middle" textLength="84.5" lengthAdjust="spacingAndGlyphs" >300</text>
<text class="tx" x="785.7" y="888.7" font-size="49.5" text-anchor="middle" textLength="87" lengthAdjust="spacingAndGlyphs" >350</text>
<text class="tx" x="0" y="0" font-size="49.5" text-anchor="start" textLength="256.5" lengthAdjust="spacingAndGlyphs" transform="translate(951.2 367.5) rotate(-90)" >C1UDS 246</text>
<text class="tx" x="0" y="0" font-size="49.5" text-anchor="start" textLength="359" lengthAdjust="spacingAndGlyphs" transform="translate(1014.6 367.5) rotate(-90)" >C1UDB 315 Ref.</text>
<text class="tx" x="0" y="0" font-size="49.5" text-anchor="start" textLength="54.5" lengthAdjust="spacingAndGlyphs" transform="translate(1016.9 686) rotate(-90)" >65</text>
<text class="tx" x="0" y="0" font-size="49.5" text-anchor="start" textLength="254" lengthAdjust="spacingAndGlyphs" transform="translate(1018.4 971) rotate(-90)" >C1UDS 102</text>
<text class="tx" x="0" y="0" font-size="49.5" text-anchor="start" textLength="255.5" lengthAdjust="spacingAndGlyphs" transform="translate(1080.6 970.8) rotate(-90)" >C1UDB 107</text>
<text class="tx" x="0" y="0" font-size="49.5" text-anchor="start" textLength="658.5" lengthAdjust="spacingAndGlyphs" transform="translate(1166.3 937) rotate(-90)" >C1UDS Ø60.5 / C1UDB Ø76.3</text>
<line class="l" x1="1474.8" y1="107" x2="2267.7" y2="107" />
<path class="l" d="M1491.1 102.2 L1477 107 L1491.1 111.8" />
<path class="l" d="M2251.4 111.8 L2265.5 107 L2251.4 102.2" />
<line class="l" x1="1474.8" y1="100" x2="1474.8" y2="135" />
<line class="l" x1="2267.7" y1="100" x2="2267.7" y2="135" />
<text class="tx" x="1699.4" y="88" font-size="49.5" text-anchor="start" textLength="340.7" lengthAdjust="spacingAndGlyphs" >Belt Width (BW)</text>
<line class="l" x1="1538.1" y1="294" x2="2198.6" y2="294" />
<path class="l" d="M1554.4 289.2 L1540.3 294 L1554.4 298.8" />
<path class="l" d="M2182.3 298.8 L2196.4 294 L2182.3 289.2" />
<line class="l" x1="1538.1" y1="288" x2="1538.1" y2="384" />
<line class="l" x1="2198.6" y1="288" x2="2198.6" y2="384" />
<text class="tx" x="1870" y="283.1" font-size="49.5" text-anchor="middle" textLength="36.3" lengthAdjust="spacingAndGlyphs" >B</text>
<line class="l" x1="1538.1" y1="357.9" x2="1670.2" y2="357.9" />
<path class="l" d="M1554.4 353.1 L1540.3 357.9 L1554.4 362.7" />
<path class="l" d="M1653.9 362.7 L1668 357.9 L1653.9 353.1" />
<line class="l" x1="1670.2" y1="352" x2="1670.2" y2="384" />
<text class="tx" x="1565.7" y="348.1" font-size="49.5" text-anchor="start" textLength="83.2" lengthAdjust="spacingAndGlyphs" >150</text>
<line class="l" x1="1184.4" y1="580.3" x2="1184.4" y2="632.7" />
<path class="l" d="M1188.4 594.3 L1184.4 582.6 L1180.4 594.3" />
<path class="l" d="M1180.4 618.7 L1184.4 630.4 L1188.4 618.7" />
<line class="l" x1="1178.5" y1="580.3" x2="1226" y2="580.3" />
<line class="l" x1="1178.5" y1="632.7" x2="1226" y2="632.7" />
<line class="l" x1="1232.7" y1="834.6" x2="2503.6" y2="834.6" />
<path class="l" d="M1249 829.8 L1234.9 834.6 L1249 839.4" />
<path class="l" d="M2487.3 839.4 L2501.4 834.6 L2487.3 829.8" />
<line class="l" x1="1232.7" y1="638" x2="1232.7" y2="840.5" />
<line class="l" x1="2503.6" y1="638" x2="2503.6" y2="840.5" />
<text class="tx" x="1869.3" y="878" font-size="49.5" text-anchor="middle" >A</text>
<line class="l" x1="1245.8" y1="736.1" x2="1383.7" y2="736.1" />
<path class="l" d="M1309 740.9 L1323.1 736.1 L1309 731.3" />
<path class="l" d="M1368.3 731.3 L1354.2 736.1 L1368.3 740.9" />
<line class="l" x1="1325.3" y1="700.7" x2="1325.3" y2="777" />
<line class="l" x1="1383.2" y1="700.7" x2="1383.2" y2="777" />
<text class="tx" x="1252.5" y="781.8" font-size="49.5" text-anchor="start" textLength="57.3" lengthAdjust="spacingAndGlyphs" >30</text>
<line class="l" x1="1325.3" y1="770.2" x2="1383.2" y2="770.2" />
<path class="l" d="M1340.3 766 L1327.6 770.2 L1340.3 774.4" />
<path class="l" d="M1368.2 774.4 L1380.9 770.2 L1368.2 766" />
<text class="tx" x="1328" y="824.1" font-size="49.5" text-anchor="start" textLength="56.5" lengthAdjust="spacingAndGlyphs" >65</text>
<g transform="translate(1569.5 491.7)"><path d="M35.4 0.6 C14 -1.5 0.2 4.5 0.5 11.5 C0.8 18.5 14 23.5 35.4 22.4 L35.4 20.6 C18 21 4.2 17 3.6 11.5 C3 6 16 1.8 35.4 2.4 Z" fill="#111"/><path d="M35.4 2.4 C22 3.5 9.6 6.5 8.4 12 C7.6 16 12 18.2 18.6 17.8 L18.8 16.4 C14 16.6 10.2 15.2 11 12 C12 8 24 4.4 35.4 2.4 Z" fill="#111"/><text x="13.1" y="15.1" font-size="13.3" font-weight="bold" font-style="italic" textLength="56" lengthAdjust="spacingAndGlyphs" fill="#fff" stroke="#111" stroke-width="1.25" transform="skewX(-8)" style="transform-origin:13px 15px">JIMWAY</text></g>
<g transform="translate(1700.4 491.7)"><path d="M35.4 0.6 C14 -1.5 0.2 4.5 0.5 11.5 C0.8 18.5 14 23.5 35.4 22.4 L35.4 20.6 C18 21 4.2 17 3.6 11.5 C3 6 16 1.8 35.4 2.4 Z" fill="#111"/><path d="M35.4 2.4 C22 3.5 9.6 6.5 8.4 12 C7.6 16 12 18.2 18.6 17.8 L18.8 16.4 C14 16.6 10.2 15.2 11 12 C12 8 24 4.4 35.4 2.4 Z" fill="#111"/><text x="13.1" y="15.1" font-size="13.3" font-weight="bold" font-style="italic" textLength="56" lengthAdjust="spacingAndGlyphs" fill="#fff" stroke="#111" stroke-width="1.25" transform="skewX(-8)" style="transform-origin:13px 15px">JIMWAY</text></g>
<g transform="translate(1964.8 491.7)"><path d="M35.4 0.6 C14 -1.5 0.2 4.5 0.5 11.5 C0.8 18.5 14 23.5 35.4 22.4 L35.4 20.6 C18 21 4.2 17 3.6 11.5 C3 6 16 1.8 35.4 2.4 Z" fill="#111"/><path d="M35.4 2.4 C22 3.5 9.6 6.5 8.4 12 C7.6 16 12 18.2 18.6 17.8 L18.8 16.4 C14 16.6 10.2 15.2 11 12 C12 8 24 4.4 35.4 2.4 Z" fill="#111"/><text x="13.1" y="15.1" font-size="13.3" font-weight="bold" font-style="italic" textLength="56" lengthAdjust="spacingAndGlyphs" fill="#fff" stroke="#111" stroke-width="1.25" transform="skewX(-8)" style="transform-origin:13px 15px">JIMWAY</text></g>
<g transform="translate(2096.9 491.7)"><path d="M35.4 0.6 C14 -1.5 0.2 4.5 0.5 11.5 C0.8 18.5 14 23.5 35.4 22.4 L35.4 20.6 C18 21 4.2 17 3.6 11.5 C3 6 16 1.8 35.4 2.4 Z" fill="#111"/><path d="M35.4 2.4 C22 3.5 9.6 6.5 8.4 12 C7.6 16 12 18.2 18.6 17.8 L18.8 16.4 C14 16.6 10.2 15.2 11 12 C12 8 24 4.4 35.4 2.4 Z" fill="#111"/><text x="13.1" y="15.1" font-size="13.3" font-weight="bold" font-style="italic" textLength="56" lengthAdjust="spacingAndGlyphs" fill="#fff" stroke="#111" stroke-width="1.25" transform="skewX(-8)" style="transform-origin:13px 15px">JIMWAY</text></g>
</g>
</svg></body></html>
